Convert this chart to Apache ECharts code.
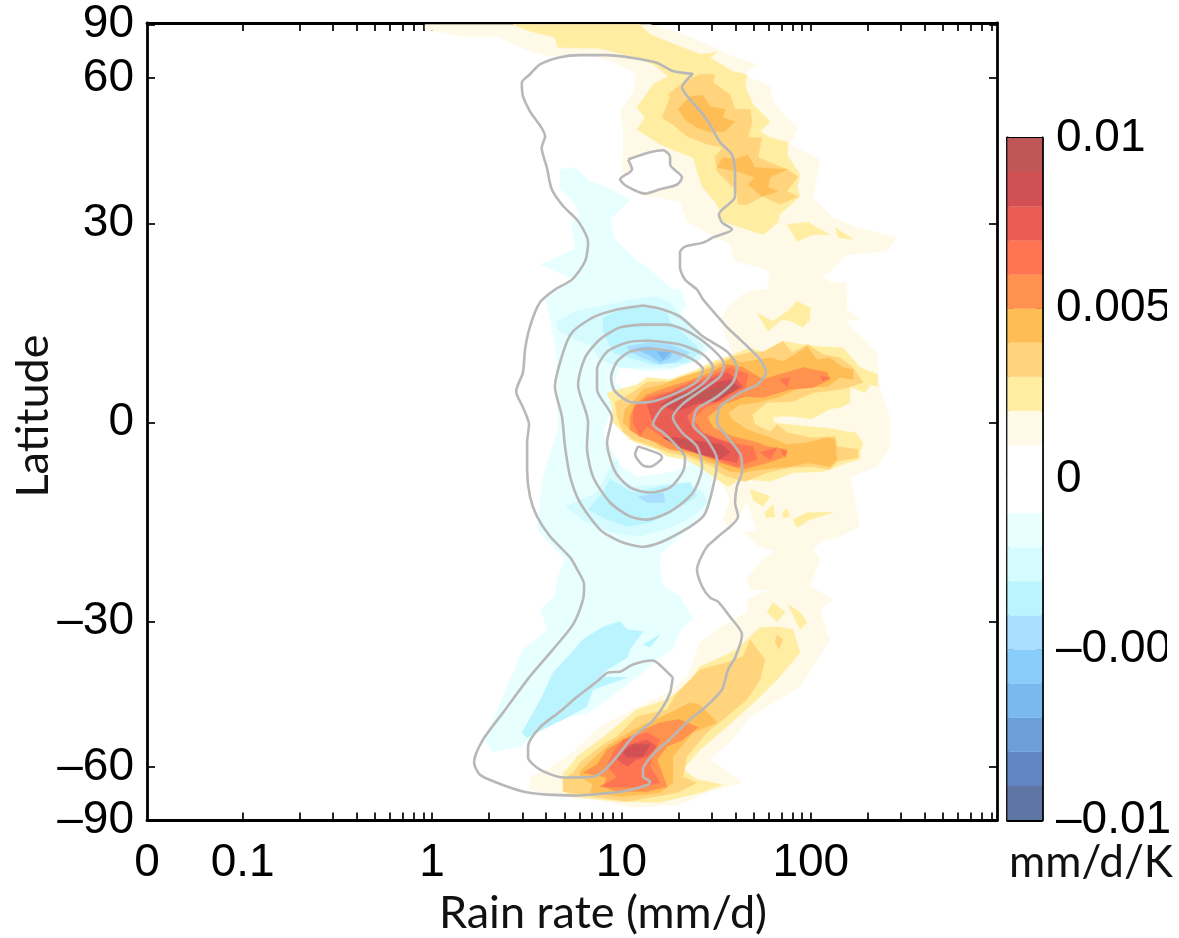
<!DOCTYPE html>
<html><head><meta charset="utf-8">
<style>html,body{margin:0;padding:0;background:#fff}#c{width:1179px;height:938px}</style>
<script src="https://cdn.jsdelivr.net/npm/echarts@6/dist/echarts.min.js"></script>
</head><body><div id="c"></div>
<script>
// Every point below is [log10(rain rate in mm/d), sin(latitude)]
const rainTickLabels=[0,0.1,1,10,100];
const rainMinorTicks=[0.1,0.2,0.3,0.4,0.5,0.6,0.7,0.8,0.9,1,2,3,4,5,6,7,8,9,10,20,30,40,50,60,70,80,90,100,200,300,400,500,600,700,800,900];
const latTicks=[-90,-60,-30,0,30,60,90];
const warmColors=['#fff9e8','#ffeea1','#ffd47c','#ffbd55','#ff924f','#ff7552','#e95d55','#d15054','#bf5757'];
const coolColors=['#e8ffff','#d5fbff','#b9f4ff','#a8deff','#89cdfb','#7ab8f0','#6c9fd9','#6286c4','#5f75a3'];
const colorbarEdges=[-0.01,-0.009,-0.008,-0.007,-0.006,-0.005,-0.004,-0.003,-0.002,-0.001,0,0.001,0.002,0.003,0.004,0.005,0.006,0.007,0.008,0.009,0.01];
const colorbarTicks=[-0.01,-0.005,0,0.005,0.01];

// ---- grey climatology contours ----
const contourOuter=[[1.371,.876],[1.272,.883],[1.186,.904],[1.061,.916],[.922,.923],[.781,.923],[.676,.918],[.570,.900],[.517,.875],[.474,.854],[.480,.820],[.517,.782],[.597,.719],[.579,.690],[.606,.641],[.632,.586],[.692,.544],[.771,.506],[.824,.452],[.808,.405],[.739,.359],[.649,.334],[.570,.302],[.517,.241],[.491,.183],[.480,.126],[.444,.078],[.480,.038],[.512,-.005],[.502,-.050],[.502,-.118],[.517,-.186],[.554,-.236],[.623,-.286],[.729,-.339],[.766,-.369],[.803,-.407],[.797,-.445],[.744,-.508],[.639,-.570],[.517,-.638],[.375,-.729],[.269,-.797],[.222,-.854],[.253,-.885],[.343,-.905],[.480,-.927],[.607,-.935],[.766,-.937],[.903,-.932],[1.008,-.927],[1.140,-.910],[1.151,-.902],[1.114,-.890],[1.114,-.872],[1.167,-.834],[1.241,-.802],[1.362,-.746],[1.441,-.716],[1.531,-.671],[1.563,-.621],[1.600,-.591],[1.637,-.533],[1.573,-.488],[1.510,-.450],[1.468,-.440],[1.426,-.412],[1.399,-.369],[1.415,-.344],[1.452,-.312],[1.505,-.289],[1.616,-.236],[1.600,-.201],[1.610,-.161],[1.637,-.123],[1.632,-.085],[1.558,-.035],[1.505,0],[1.521,.040],[1.626,.075],[1.716,.095],[1.764,.126],[1.732,.158],[1.626,.209],[1.558,.239],[1.531,.254],[1.431,.309],[1.399,.334],[1.336,.359],[1.309,.390],[1.309,.427],[1.336,.442],[1.431,.452],[1.484,.465],[1.584,.485],[1.531,.503],[1.515,.523],[1.600,.568],[1.600,.623],[1.584,.673],[1.521,.704],[1.452,.761],[1.362,.812],[1.320,.842],[1.378,.877],[1.371,.876]];
const contourHole=[[1.035,.661],[1.151,.679],[1.220,.684],[1.257,.668],[1.257,.648],[1.320,.616],[1.294,.598],[1.204,.586],[1.125,.575],[1.030,.593],[.993,.611],[1.056,.636],[1.035,.661]];
const contourA=[[1.114,.294],[.977,.284],[.850,.264],[.739,.226],[.692,.176],[.649,.090],[.686,.015],[.702,-.060],[.729,-.136],[.781,-.201],[.887,-.269],[.993,-.299],[1.114,-.312],[1.241,-.294],[1.431,-.236],[1.484,-.161],[1.505,-.093],[1.452,-.043],[1.378,-.005],[1.399,.033],[1.505,.065],[1.589,.101],[1.610,.138],[1.558,.178],[1.431,.216],[1.309,.266],[1.204,.286],[1.114,.294]];
const contourB=[[1.114,.246],[.993,.239],[.887,.209],[.808,.163],[.771,.095],[.824,0],[.818,-.060],[.850,-.136],[.940,-.201],[1.045,-.236],[1.135,-.244],[1.257,-.224],[1.378,-.176],[1.426,-.111],[1.399,-.060],[1.320,-.025],[1.272,.013],[1.320,.045],[1.415,.078],[1.521,.116],[1.542,.146],[1.484,.183],[1.362,.226],[1.241,.246],[1.114,.246]];
const contourC=[[1.135,.206],[1.030,.201],[.924,.178],[.871,.133],[.871,.083],[.950,.013],[.924,-.050],[.966,-.123],[1.045,-.163],[1.151,-.176],[1.257,-.163],[1.325,-.123],[1.336,-.088],[1.294,-.060],[1.220,-.025],[1.167,-.005],[1.220,.038],[1.362,.075],[1.452,.108],[1.484,.138],[1.431,.171],[1.309,.196],[1.135,.206]];
const contourD=[[1.151,.186],[1.045,.178],[.977,.153],[.945,.113],[.966,.078],[1.061,.050],[1.167,.053],[1.294,.075],[1.399,.103],[1.431,.133],[1.378,.158],[1.272,.178],[1.151,.186]];
const contourSmall=[[1.088,-.060],[1.204,-.080],[1.214,-.088],[1.151,-.111],[1.109,-.106],[1.072,-.080],[1.088,-.060]];
const contourSouth=[[1.272,-.641],[1.188,-.603],[1.162,-.598],[1.061,-.608],[.993,-.626],[.929,-.628],[.871,-.651],[.766,-.689],[.676,-.726],[.570,-.766],[.507,-.814],[.507,-.842],[.570,-.872],[.692,-.892],[.850,-.890],[.903,-.877],[.977,-.839],[1.056,-.792],[1.162,-.751],[1.220,-.714],[1.257,-.679],[1.267,-.653],[1.272,-.641]];
const contours=[contourOuter,contourHole,contourA,contourB,contourC,contourD,contourSmall,contourSouth];

// ---- shaded regions: negative trend ----
const coolBig=[[.676,.636],[.755,.641],[.834,.606],[.924,.591],[1.045,.560],[.940,.510],[.966,.460],[1.072,.410],[1.151,.384],[1.267,.334],[1.309,.334],[1.346,.292],[1.309,.276],[1.415,.226],[1.468,.191],[1.415,.158],[1.484,-.186],[1.415,-.236],[1.346,-.269],[1.204,-.332],[1.204,-.369],[1.220,-.412],[1.309,-.437],[1.378,-.495],[1.309,-.520],[1.272,-.570],[1.204,-.588],[1.114,-.628],[1.045,-.653],[.903,-.704],[.818,-.729],[.676,-.746],[.570,-.771],[.465,-.814],[.322,-.827],[.280,-.797],[.359,-.704],[.412,-.646],[.480,-.570],[.612,-.520],[.570,-.470],[.649,-.437],[.660,-.395],[.702,-.344],[.554,-.269],[.586,-.136],[.665,-.018],[.665,.108],[.655,.183],[.623,.259],[.597,.309],[.755,.359],[.570,.397],[.755,.435],[.739,.498],[.781,.523],[.739,.560],[.676,.586]];
const gapNorth=[[.966,.101],[.993,.138],[1.135,.128],[1.272,.133],[1.415,.158],[1.441,.128],[1.135,.101],[1.035,.078]];
const gapSouth=[[.940,.025],[.903,-.030],[.940,-.060],[.993,-.106],[1.082,-.136],[1.272,-.123],[1.362,-.106],[1.241,-.075],[1.061,-.043],[.956,0]];
const coolN2=[[.660,.254],[.755,.279],[.887,.292],[1.061,.309],[1.188,.317],[1.257,.302],[1.299,.279],[1.431,.191],[1.415,.158],[1.272,.138],[.993,.138],[.887,.158],[.834,.196],[.755,.209],[.660,.234]];
const coolN3=[[.903,.264],[1.030,.289],[1.114,.292],[1.241,.276],[1.257,.254],[1.399,.191],[1.415,.176],[1.346,.151],[1.167,.146],[1.045,.163],[.956,.176],[.903,.229]];
const coolN4=[[1.030,.191],[1.135,.201],[1.257,.196],[1.362,.176],[1.294,.153],[1.204,.146],[1.114,.163],[1.045,.178]];
const coolN5=[[1.072,.186],[1.135,.191],[1.272,.178],[1.257,.163],[1.204,.151],[1.162,.166]];
const coolN6=[[1.188,.178],[1.257,.176],[1.220,.158]];
const coolS2=[[.702,-.211],[.871,-.176],[.956,-.101],[.982,-.093],[.977,-.136],[1.061,-.161],[1.346,-.151],[1.431,-.176],[1.452,-.201],[1.378,-.236],[1.272,-.261],[1.098,-.286],[.940,-.276],[.818,-.251]];
const coolS3=[[.824,-.219],[.903,-.176],[.940,-.143],[1.061,-.176],[1.204,-.161],[1.362,-.151],[1.399,-.186],[1.257,-.226],[1.151,-.251],[1.030,-.261],[.924,-.244]];
const coolS4=[[1.088,-.186],[1.220,-.176],[1.230,-.201],[1.135,-.201]];
const coolSH3=[[.475,-.779],[.581,-.689],[.639,-.628],[.713,-.591],[.797,-.545],[.903,-.513],[.993,-.500],[1.030,-.520],[1.114,-.525],[1.045,-.570],[1.030,-.591],[.924,-.621],[.887,-.638],[1.030,-.641],[.956,-.653],[.850,-.671],[.818,-.714],[.692,-.746],[.586,-.771],[.502,-.792]];
const coolSH3b=[[1.114,-.558],[1.204,-.533],[1.151,-.565]];

// ---- shaded regions: positive trend, north ----
const northL1=[[-.037,.988],[.164,.970],[.343,.970],[.465,.942],[.607,.920],[.818,.925],[.956,.907],[1.082,.875],[1.061,.832],[.993,.782],[1.008,.741],[1.008,.681],[1.003,.631],[1.098,.573],[1.309,.555],[1.346,.505],[1.573,.447],[1.600,.405],[1.785,.384],[2.086,.372],[2.191,.422],[2.402,.430],[2.455,.465],[2.244,.490],[2.117,.515],[2.012,.565],[2.049,.661],[1.890,.699],[1.932,.741],[1.874,.766],[1.800,.807],[1.785,.844],[1.642,.875],[1.716,.900],[1.558,.925],[1.452,.950],[1.309,.980],[1.151,1],[-.037,1]];
const northL2=[[.428,1],[1.098,1],[1.151,.975],[1.309,.945],[1.415,.925],[1.505,.930],[1.468,.917],[1.589,.882],[1.663,.875],[1.653,.844],[1.695,.799],[1.785,.756],[1.732,.731],[1.785,.716],[1.880,.704],[1.874,.673],[1.943,.623],[1.927,.591],[1.943,.568],[1.837,.523],[1.827,.503],[1.748,.472],[1.536,.505],[1.505,.548],[1.426,.593],[1.378,.666],[1.267,.686],[1.204,.699],[1.082,.736],[1.125,.766],[1.082,.792],[1.167,.849],[1.246,.870],[1.167,.900],[1.030,.922],[.887,.940],[.665,.942],[.649,.968],[.517,.983]];
const northL2b=[[1.874,.498],[1.985,.503],[2.101,.472],[2.006,.472],[1.927,.455]];
const northL2c=[[2.128,.490],[2.223,.460],[2.144,.465]];
const northL3=[[1.246,.824],[1.325,.854],[1.415,.875],[1.494,.875],[1.484,.854],[1.573,.824],[1.600,.787],[1.679,.787],[1.690,.754],[1.668,.716],[1.742,.716],[1.721,.666],[1.874,.636],[1.932,.618],[1.874,.581],[1.932,.568],[1.837,.548],[1.748,.568],[1.663,.548],[1.616,.548],[1.610,.581],[1.505,.631],[1.494,.668],[1.536,.691],[1.452,.699],[1.346,.719],[1.272,.749],[1.214,.766],[1.257,.817]];
const northL4a=[[1.362,.819],[1.431,.822],[1.468,.794],[1.547,.787],[1.536,.766],[1.600,.756],[1.547,.731],[1.468,.729],[1.399,.741],[1.336,.761],[1.299,.787]];
const northL4b=[[1.505,.641],[1.536,.666],[1.600,.661],[1.668,.673],[1.705,.641],[1.874,.636],[1.785,.616],[1.774,.591],[1.827,.581],[1.742,.568],[1.668,.598],[1.705,.616],[1.610,.631]];
const bridgeNorth=[[1.610,.417],[1.785,.377],[1.769,.334],[1.642,.322],[1.558,.289],[1.600,.234],[2.260,.259],[2.154,.297],[2.191,.352],[2.101,.352],[2.033,.384],[2.128,.422],[1.811,.435]];

// ---- shaded regions: positive trend, tropics ----
const tropL1=[[1.558,.284],[1.663,.327],[1.716,.334],[2.191,.334],[2.191,.251],[2.350,.176],[2.365,.083],[2.418,.013],[2.418,-.060],[2.350,-.111],[2.207,-.136],[2.260,-.261],[2.154,-.286],[2.012,-.302],[1.837,-.319],[1.732,-.294],[1.663,-.201],[1.573,-.269],[1.536,-.244],[1.573,-.194],[1.521,-.143],[1.600,.158],[1.521,.254]];
const tropL2=[[.924,.075],[1.082,.095],[1.135,.113],[1.257,.108],[1.399,.133],[1.484,.153],[1.589,.171],[1.679,.188],[1.748,.176],[1.853,.204],[1.959,.196],[2.049,.191],[2.170,.188],[2.260,.138],[2.350,.121],[2.355,.090],[2.313,.095],[2.286,.075],[2.207,.090],[2.207,.050],[2.138,.033],[2.223,-.018],[2.276,-.050],[2.260,-.075],[2.260,-.093],[2.191,-.101],[2.138,-.111],[2.064,-.123],[1.906,-.126],[1.785,-.148],[1.679,-.143],[1.610,-.148],[1.563,-.161],[1.505,-.143],[1.431,-.118],[1.346,-.093],[1.241,-.085],[1.188,-.068],[1.061,-.048],[1.008,-.025],[.956,0],[.950,.045]];
const tropL2b=[[1.716,.276],[1.800,.254],[1.874,.279],[1.927,.304],[1.996,.289],[1.996,.259],[1.959,.239],[1.901,.254],[1.848,.259],[1.774,.229]];
const tropL2c=[[1.906,-.244],[1.980,-.226],[2.117,-.226],[1.996,-.244],[1.927,-.264]];
const tropL2d=[[1.679,-.168],[1.785,-.186],[1.748,-.211],[1.695,-.194]];
const tropL2e=[[1.758,-.226],[1.800,-.206],[1.811,-.236],[1.764,-.240]];
const tropL2f=[[1.853,-.224],[1.874,-.216],[1.890,-.236],[1.853,-.240]];
const tropGap=[[1.800,.013],[1.890,.015],[2.006,.008],[2.101,.033],[2.207,.040],[2.365,.015],[2.260,-.025],[2.207,-.023],[2.086,-.013],[2.012,-.010],[1.901,-.005],[1.811,0]];
const tropL3=[[.966,.050],[1.056,.075],[1.135,.101],[1.257,.103],[1.399,.126],[1.484,.146],[1.589,.166],[1.679,.176],[1.748,.178],[1.853,.204],[1.901,.176],[1.985,.196],[2.064,.171],[2.154,.163],[2.223,.138],[2.276,.101],[2.207,.090],[2.154,.083],[2.012,.075],[1.906,.053],[1.769,.050],[1.690,.020],[1.705,-.005],[1.785,-.023],[1.822,-.005],[1.874,-.025],[1.996,-.038],[2.128,-.035],[2.138,-.060],[2.249,-.068],[2.249,-.088],[2.138,-.098],[2.101,-.118],[2.012,-.111],[1.890,-.113],[1.769,-.126],[1.653,-.148],[1.558,-.136],[1.505,-.123],[1.484,-.111],[1.346,-.085],[1.241,-.075],[1.167,-.060],[1.061,-.043],[1.008,-.023],[.977,.015]];
const tropL4=[[1.056,.050],[1.114,.083],[1.220,.095],[1.309,.113],[1.415,.128],[1.505,.141],[1.589,.163],[1.626,.151],[1.732,.158],[1.785,.163],[1.853,.153],[1.917,.171],[1.980,.191],[2.033,.158],[2.101,.163],[2.170,.138],[2.223,.133],[2.223,.108],[2.154,.113],[2.086,.090],[1.943,.088],[1.837,.065],[1.716,.050],[1.626,.045],[1.563,.025],[1.584,.008],[1.663,-.018],[1.769,-.035],[1.874,-.055],[1.985,-.050],[2.086,-.038],[2.128,-.043],[2.138,-.093],[2.101,-.111],[1.985,-.101],[1.890,-.111],[1.732,-.118],[1.642,-.126],[1.573,-.123],[1.505,-.106],[1.452,-.098],[1.325,-.075],[1.204,-.060],[1.135,-.035],[1.061,-.025],[1.008,0],[1.019,.033]];
const tropL5=[[1.072,.045],[1.135,.070],[1.241,.088],[1.346,.103],[1.452,.121],[1.558,.146],[1.642,.138],[1.748,.108],[1.837,.121],[1.959,.138],[2.086,.126],[2.101,.108],[2.012,.088],[1.890,.083],[1.748,.063],[1.653,.065],[1.536,.045],[1.452,.013],[1.484,-.013],[1.589,-.035],[1.716,-.050],[1.769,-.060],[1.874,-.068],[1.853,-.088],[1.769,-.101],[1.642,-.118],[1.521,-.101],[1.431,-.085],[1.378,-.075],[1.257,-.068],[1.188,-.050],[1.098,-.035],[1.045,-.018],[1.045,.015]];
const tropL6=[[1.072,.040],[1.140,.063],[1.257,.078],[1.362,.101],[1.452,.113],[1.573,.138],[1.668,.121],[1.653,.083],[1.536,.053],[1.441,.038],[1.378,.008],[1.431,-.025],[1.521,-.043],[1.626,-.055],[1.695,-.060],[1.716,-.093],[1.610,-.111],[1.505,-.093],[1.415,-.075],[1.309,-.060],[1.220,-.038],[1.135,-.010],[1.098,-.035],[1.061,0],[1.061,.025]];
const tropL6b=[[1.837,.108],[1.890,.113],[1.874,.090]];
const tropL6c=[[2.049,.116],[2.101,.113],[2.064,.103]];
const tropL6d=[[1.732,-.075],[1.822,-.063],[1.785,-.093]];
const tropL6e=[[1.837,-.068],[1.874,-.073],[1.864,-.088]];
const tropL7=[[1.135,.045],[1.188,.063],[1.309,.083],[1.431,.103],[1.558,.126],[1.610,.108],[1.642,.090],[1.536,.065],[1.415,.050],[1.346,.015],[1.378,-.018],[1.484,-.038],[1.584,-.055],[1.626,-.075],[1.610,-.101],[1.531,-.093],[1.415,-.068],[1.309,-.050],[1.220,-.025],[1.167,0]];
const tropL8a=[[1.204,.045],[1.309,.070],[1.452,.095],[1.573,.108],[1.626,.088],[1.505,.053],[1.378,.045],[1.294,.028]];
const tropL8b=[[1.220,-.038],[1.294,-.038],[1.415,-.048],[1.531,-.055],[1.573,-.075],[1.521,-.093],[1.415,-.080],[1.309,-.063]];
const tropL9a=[[1.399,.075],[1.505,.088],[1.600,.095],[1.589,.078],[1.505,.063],[1.404,.058]];
const tropL9b=[[1.267,.063],[1.389,.083],[1.415,.075],[1.309,.053]];
const tropL9c=[[1.294,-.043],[1.378,-.055],[1.346,-.060]];

// ---- shaded regions: positive trend, south ----
const bridgeSouth=[[1.642,-.276],[1.732,-.312],[1.811,-.324],[1.748,-.344],[1.663,-.390],[1.679,-.420],[1.785,-.420],[1.663,-.445],[1.695,-.503],[1.785,-.545],[1.943,-.583],[2.022,-.570],[2.086,-.528],[2.049,-.470],[2.117,-.445],[1.996,-.412],[2.049,-.344],[2.012,-.319],[2.049,-.302],[2.170,-.269],[2.191,-.244],[1.943,-.256]];
const southL1=[[.517,-.890],[.607,-.872],[.744,-.829],[.887,-.764],[1.061,-.721],[1.257,-.676],[1.346,-.638],[1.415,-.553],[1.521,-.515],[1.663,-.477],[1.679,-.445],[1.943,-.445],[2.022,-.470],[2.101,-.546],[1.943,-.664],[1.679,-.739],[1.589,-.796],[1.468,-.847],[1.642,-.904],[1.468,-.927],[1.309,-.960],[1.061,-.967],[.850,-.947],[.676,-.940],[.517,-.922]];
const southL2=[[.692,-.880],[.744,-.855],[.766,-.839],[.887,-.797],[1.082,-.721],[1.241,-.696],[1.346,-.659],[1.415,-.613],[1.536,-.588],[1.610,-.570],[1.663,-.546],[1.732,-.515],[1.822,-.513],[1.906,-.520],[1.943,-.578],[1.837,-.638],[1.716,-.696],[1.558,-.764],[1.415,-.822],[1.325,-.872],[1.399,-.897],[1.536,-.910],[1.415,-.930],[1.204,-.955],[.993,-.952],[.729,-.940],[.692,-.922]];
const southL2b=[[1.769,-.477],[1.800,-.452],[1.864,-.477],[1.822,-.500]];
const southL2c=[[1.880,-.457],[1.943,-.477],[1.980,-.503],[1.943,-.520]];
const southL3=[[.744,-.880],[.781,-.855],[.903,-.809],[.977,-.789],[1.082,-.739],[1.241,-.721],[1.294,-.679],[1.415,-.621],[1.558,-.603],[1.642,-.588],[1.679,-.546],[1.758,-.596],[1.732,-.646],[1.663,-.696],[1.536,-.746],[1.452,-.779],[1.346,-.839],[1.325,-.890],[1.399,-.905],[1.294,-.930],[1.030,-.952],[.850,-.940],[.692,-.927],[.692,-.897]];
const southL3b=[[1.822,-.533],[1.853,-.545],[1.832,-.570],[1.811,-.553]];
const southL4=[[.781,-.877],[.818,-.859],[.924,-.814],[.993,-.792],[1.098,-.764],[1.272,-.726],[1.362,-.704],[1.415,-.709],[1.505,-.754],[1.378,-.779],[1.272,-.839],[1.272,-.905],[1.204,-.930],[1.008,-.940],[.834,-.930],[.850,-.910],[.781,-.890]];
const southL5=[[.871,-.859],[.924,-.822],[.993,-.802],[1.082,-.779],[1.204,-.754],[1.309,-.746],[1.404,-.766],[1.325,-.797],[1.241,-.814],[1.188,-.847],[1.241,-.915],[1.135,-.927],[.977,-.927],[.903,-.915],[.924,-.892],[.797,-.880]];
const southL6=[[.924,-.864],[.956,-.829],[1.008,-.797],[1.135,-.779],[1.204,-.797],[1.167,-.829],[1.151,-.864],[1.204,-.905],[1.098,-.917],[.887,-.915],[.977,-.892]];
const southL7=[[.977,-.847],[1.008,-.814],[1.135,-.797],[1.188,-.814],[1.135,-.839],[1.082,-.847],[1.030,-.864]];
const southL8=[[1.008,-.829],[1.061,-.809],[1.151,-.809],[1.114,-.839],[1.030,-.842]];

// painter's order: [trend level (thousandths of mm/d/K), region]
const layers=[
 [-1,coolBig],[0,gapNorth],[0,gapSouth],
 [-2,coolN2],[-3,coolN3],[-4,coolN4],[-5,coolN5],[-6,coolN6],
 [-2,coolS2],[-3,coolS3],[-4,coolS4],[-3,coolSH3],[-3,coolSH3b],
 [1,northL1],[1,bridgeNorth],[0,contourHole],[2,northL2],[2,northL2b],[2,northL2c],[3,northL3],[4,northL4a],[4,northL4b],
 [1,southL1],[1,bridgeSouth],[2,southL2],[2,southL2b],[2,southL2c],[3,southL3],[3,southL3b],[4,southL4],[5,southL5],[6,southL6],[7,southL7],[8,southL8],
 [1,tropL1],[2,tropL2],[2,tropL2b],[2,tropL2c],[2,tropL2d],[2,tropL2e],[2,tropL2f],[1,tropGap],[3,tropL3],[4,tropL4],[5,tropL5],
 [6,tropL6],[6,tropL6b],[6,tropL6c],[6,tropL6d],[6,tropL6e],[7,tropL7],[8,tropL8a],[8,tropL8b],[9,tropL9a],[9,tropL9b],[9,tropL9c]
];
function levelColor(l){return l===0?'#ffffff':(l>0?warmColors[l-1]:coolColors[-l-1]);}

const xMin=-1.505,xMax=2.983,yMin=-1,yMax=1.0038;
const fontNum='"Liberation Sans",Arial,sans-serif', fontName='Lato,"Open Sans",sans-serif';
const sinLat=d=>Math.sin(d*Math.PI/180);
const xMajor=rainTickLabels.map(r=>r===0?xMin:Math.log10(r));
const xMinorVals=rainMinorTicks.map(r=>Math.log10(r));
const yVals=latTicks.map(sinLat);
const xFmt=v=>{const i=xMajor.findIndex(m=>Math.abs(m-v)<1e-6);return i<0?'':String(rainTickLabels[i]);};
const yFmt=v=>{const i=yVals.findIndex(m=>Math.abs(m-v)<1e-6);return i<0?'':String(latTicks[i]).replace('-','\u2013');};
const cbFmt=v=>{const i=colorbarTicks.findIndex(m=>Math.abs(m-v)<1e-7);return i<0?'':String(colorbarTicks[i]).replace('-','\u2013');};
const frame={show:true,onZero:false,lineStyle:{color:'#000',width:2.8}};
const tick={show:true,inside:true,length:8,lineStyle:{color:'#000',width:1.7}};
const mainX=pos=>({type:'value',gridIndex:0,position:pos,min:xMin,max:xMax,splitLine:{show:false},axisLine:frame,
  axisTick:Object.assign({},tick,{customValues:xMinorVals}),
  axisLabel:pos==='bottom'?{show:true,customValues:xMajor,formatter:xFmt,color:'#000',fontSize:46,fontFamily:fontNum,margin:20,hideOverlap:false,showMinLabel:true}:{show:false}});
const mainY=pos=>({type:'value',gridIndex:0,position:pos,min:yMin,max:yMax,splitLine:{show:false},axisLine:frame,
  axisTick:Object.assign({},tick,{customValues:yVals}),
  axisLabel:pos==='left'?{show:true,customValues:yVals,formatter:yFmt,color:'#000',fontSize:46,fontFamily:fontNum,margin:13,hideOverlap:false,showMinLabel:true,showMaxLabel:true}:{show:false}});
const cbX=pos=>({type:'value',gridIndex:1,position:pos,min:0,max:1,splitLine:{show:false},axisLine:frame,axisTick:{show:false},axisLabel:{show:false}});
const cbY=pos=>({type:'value',gridIndex:1,position:pos,min:-0.01,max:0.01,interval:0.005,splitLine:{show:false},axisLine:frame,
  axisTick:{show:true,inside:true,length:6,lineStyle:{color:'#000',width:1.7}},
  axisLabel:pos==='right'?{show:true,formatter:cbFmt,color:'#000',fontSize:46,fontFamily:fontNum,margin:14,hideOverlap:false,showMinLabel:true,showMaxLabel:true}:{show:false}});

const chart=echarts.init(document.getElementById('c'),null,{renderer:'canvas'});
const series=[{
  type:'custom',xAxisIndex:0,yAxisIndex:0,coordinateSystem:'cartesian2d',clip:true,silent:true,z:2,animation:false,
  data:layers.map((l,i)=>[0,0,i]),encode:{x:0,y:1},
  renderItem:(p,api)=>{const l=layers[api.value(2)];
    return {type:'polygon',shape:{points:l[1].map(q=>api.coord(q))},style:{fill:levelColor(l[0]),stroke:levelColor(l[0]),lineWidth:0.4}};}
},{
  type:'custom',xAxisIndex:1,yAxisIndex:2,coordinateSystem:'cartesian2d',clip:true,silent:true,z:2,animation:false,
  data:colorbarEdges.slice(0,-1).map((e,i)=>[0,e,colorbarEdges[i+1],i]),encode:{x:0,y:1},
  renderItem:(p,api)=>{const i=api.value(3),a=api.coord([0,api.value(1)]),b=api.coord([1,api.value(2)]);
    const c=i<9?coolColors[8-i]:(i<=10?'#ffffff':warmColors[i-11]);
    return {type:'rect',shape:{x:a[0],y:b[1],width:b[0]-a[0],height:a[1]-b[1]},style:{fill:c,stroke:c,lineWidth:0.3}};}
}];
contours.forEach(c=>series.push({type:'line',xAxisIndex:0,yAxisIndex:0,data:c,showSymbol:false,symbol:'none',smooth:0.25,clip:true,silent:true,z:3,animation:false,
  lineStyle:{color:'#b8b8b8',width:2.6}}));
chart.setOption({
  animation:false,backgroundColor:'#fff',
  grid:[{left:147,top:23,width:850,height:797.5,containLabel:false,outerBoundsMode:'none'},{left:1007.5,top:138,width:34.5,height:682,containLabel:false,outerBoundsMode:'none'}],
  xAxis:[mainX('bottom'),cbX('bottom'),mainX('top'),cbX('top')],
  yAxis:[mainY('left'),mainY('right'),cbY('right'),cbY('left')],
  series:series,
  graphic:[
    {type:'rect',z:100,shape:{x:1167,y:280,width:12,height:400},style:{fill:'#fff'}},
    {type:'text',z:101,x:603,y:913,style:{text:'Rain rate (mm/d)',font:'45px '+fontName,fill:'#111',textAlign:'center',textVerticalAlign:'middle'}},
    {type:'text',z:101,x:33,y:416,rotation:Math.PI/2,style:{text:'Latitude',font:'45px '+fontName,fill:'#111',textAlign:'center',textVerticalAlign:'middle'}},
    {type:'text',z:101,x:1091,y:863,style:{text:'mm/d/K',font:'44px '+fontName,fill:'#111',textAlign:'center',textVerticalAlign:'middle'}}
  ]
});
</script></body></html>
